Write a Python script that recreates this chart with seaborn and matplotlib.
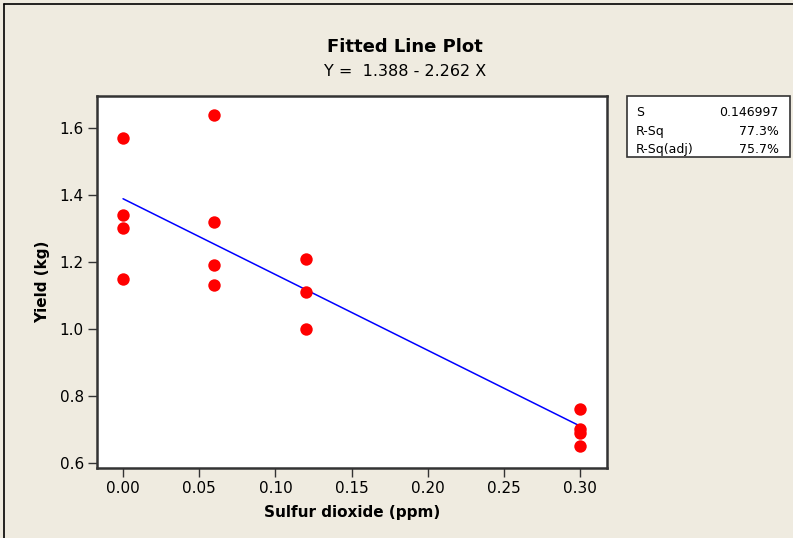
import matplotlib
matplotlib.use("Agg")
import matplotlib.pyplot as plt
import seaborn as sns
import pandas as pd
from matplotlib.patches import Rectangle
from matplotlib.lines import Line2D

sulfur = [0.00, 0.00, 0.00, 0.00, 0.06, 0.06, 0.06, 0.06, 0.12, 0.12, 0.12, 0.30, 0.30, 0.30, 0.30]
yield_kg = [1.57, 1.34, 1.30, 1.15, 1.64, 1.32, 1.19, 1.13, 1.21, 1.11, 1.00, 0.76, 0.70, 0.69, 0.65]
x_ticks = [0.00, 0.05, 0.10, 0.15, 0.20, 0.25, 0.30]
y_ticks = [0.6, 0.8, 1.0, 1.2, 1.4, 1.6]
stat_names = ["S", "R-Sq", "R-Sq(adj)"]
stat_values = ["0.146997", "77.3%", "75.7%"]

df = pd.DataFrame({"x": sulfur, "y": yield_kg})

sns.set_style("ticks")
plt.rcParams["font.family"] = ["DejaVu Sans"]
plt.rcParams["text.color"] = "black"
plt.rcParams["axes.labelcolor"] = "black"
plt.rcParams["xtick.color"] = "#333333"
plt.rcParams["ytick.color"] = "#333333"
plt.rcParams["xtick.labelcolor"] = "black"
plt.rcParams["ytick.labelcolor"] = "black"

bg = "#EFEBE0"
W, H = 793, 538
fig = plt.figure(figsize=(W / 100, H / 100), dpi=100, facecolor=bg)
ax = fig.add_axes([97 / W, 1 - 468 / H, (607 - 97) / W, (468 - 96) / H])
ax.set_facecolor("white")

sns.regplot(data=df, x="x", y="y", ci=None, ax=ax,
            scatter_kws=dict(s=80, color="#FF0000", linewidths=0, alpha=1, zorder=3),
            line_kws=dict(color="#0000FF", lw=1.1, zorder=2))

ax.set_xlim(-0.0171, 0.3177)
ax.set_ylim(0.585, 1.6955)
ax.set_xticks(x_ticks)
ax.set_xticklabels([f"{v:.2f}" for v in x_ticks])
ax.set_yticks(y_ticks)
ax.set_yticklabels([f"{v:.1f}" for v in y_ticks])
ax.tick_params(direction="out", length=6.5, width=1.0, labelsize=11, pad=3)
for sp in ax.spines.values():
    sp.set_visible(True)
    sp.set_color("#333333")
    sp.set_linewidth(1.8)

ax.set_xlabel("Sulfur dioxide (ppm)", fontsize=11, fontweight="bold", labelpad=6)
ax.set_ylabel("Yield (kg)", fontsize=11, fontweight="bold", labelpad=7)

fig.text(405 / W, 1 - 47 / H, "Fitted Line Plot", ha="center", va="center",
         fontsize=13, fontweight="bold")
fig.text(405 / W, 1 - 71 / H, "Y =  1.388 - 2.262 X", ha="center", va="center", fontsize=11.5)

# stats box
fig.patches.append(Rectangle((627 / W, 1 - 157 / H), (790 - 627) / W, (157 - 96) / H,
                             transform=fig.transFigure, facecolor="white",
                             edgecolor="#333333", lw=1.2))
rows_y = [116, 135, 153]
for name, val, yy in zip(stat_names, stat_values, rows_y):
    fig.text(636 / W, 1 - yy / H, name, ha="left", va="baseline", fontsize=9)
    fig.text(779 / W, 1 - yy / H, val, ha="right", va="baseline", fontsize=9)

# figure border (left and top)
fig.lines.append(Line2D([3.5 / W, 3.5 / W], [0, 1 - 3.5 / H], transform=fig.transFigure,
                        color="black", lw=1.2))
fig.lines.append(Line2D([3.5 / W, 1], [1 - 3.5 / H, 1 - 3.5 / H], transform=fig.transFigure,
                        color="black", lw=1.2))

fig.savefig("out.png", dpi=100, facecolor=bg)
